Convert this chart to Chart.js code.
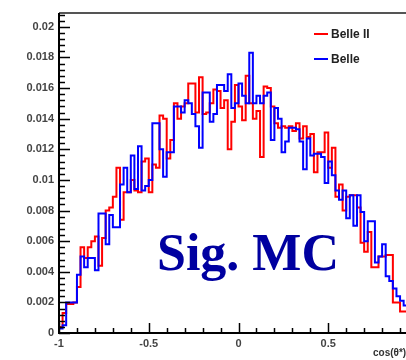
<!DOCTYPE html>
<html lang="en">
<head>
<meta charset="UTF-8">
<title>Sig. MC</title>
<script src="https://cdn.jsdelivr.net/npm/chart.js"></script>
<style>
    html, body { margin: 0; padding: 0; background: #fff; overflow: hidden; }
    #wrap { width: 430px; height: 360px; position: relative; }
</style>
</head>
<body>
<div id="wrap"><canvas id="chart"></canvas></div>
<script>
// histogram range, 100 bins over [-1, 1]
const xMin = -1;
const xMax = 1;

const seriesLabels = ['Belle II', 'Belle'];

const belle2 = [
    0.0004, 0.0013, 0.0019, 0.0019, 0.0020, 0.0030, 0.0056, 0.0049, 0.0056, 0.0060,
    0.0063, 0.0044, 0.0062, 0.0080, 0.0082, 0.0089, 0.0108, 0.0074, 0.0092, 0.0092,
    0.0100, 0.0093, 0.0092, 0.0112, 0.0114, 0.0092, 0.0110, 0.0108, 0.0142, 0.0140,
    0.0114, 0.0126, 0.0150, 0.0140, 0.0148, 0.0150, 0.0163, 0.0163, 0.0144, 0.0167,
    0.0143, 0.0144, 0.0150, 0.0159, 0.0158, 0.0147, 0.0152, 0.0120, 0.0138, 0.0162,
    0.0148, 0.0139, 0.0168, 0.0150, 0.0140, 0.0145, 0.0115, 0.0161, 0.0160, 0.0148,
    0.0137, 0.0134, 0.0135, 0.0134, 0.0135, 0.0132, 0.0137, 0.0127, 0.0135, 0.0128,
    0.0130, 0.0105, 0.0118, 0.0118, 0.0131, 0.0108, 0.0121, 0.0089, 0.0097, 0.0080,
    0.0089, 0.0090, 0.0090, 0.0082, 0.0059, 0.0053, 0.0066, 0.0043, 0.0043, 0.0050,
    0.0050, 0.0051, 0.0051, 0.0020, 0.0020, 0.0014, 0.0014, 0.0012, 0.0008, 0.0004
];

const belle = [
    0.0003, 0.0005, 0.0020, 0.0020, 0.0020, 0.0038, 0.0050, 0.0043, 0.0049, 0.0049,
    0.0041, 0.0078, 0.0078, 0.0058, 0.0077, 0.0069, 0.0069, 0.0097, 0.0108, 0.0092,
    0.0116, 0.0094, 0.0122, 0.0093, 0.0096, 0.0100, 0.0137, 0.0137, 0.0120, 0.0102,
    0.0118, 0.0118, 0.0148, 0.0148, 0.0144, 0.0152, 0.0150, 0.0143, 0.0135, 0.0121,
    0.0157, 0.0157, 0.0138, 0.0143, 0.0162, 0.0162, 0.0158, 0.0169, 0.0147, 0.0150,
    0.0163, 0.0155, 0.0150, 0.0183, 0.0150, 0.0155, 0.0150, 0.0155, 0.0157, 0.0126,
    0.0147, 0.0140, 0.0118, 0.0125, 0.0134, 0.0134, 0.0133, 0.0125, 0.0107, 0.0127,
    0.0116, 0.0117, 0.0117, 0.0115, 0.0098, 0.0112, 0.0103, 0.0093, 0.0087, 0.0093,
    0.0075, 0.0090, 0.0070, 0.0090, 0.0079, 0.0060, 0.0073, 0.0073, 0.0046, 0.0050,
    0.0058, 0.0037, 0.0034, 0.0029, 0.0024, 0.0021, 0.0018, 0.0015, 0.0010, 0.0005
];

const xMajorTicks = [-1, -0.5, 0, 0.5, 1];
const yMajorTicks = [0, 0.002, 0.004, 0.006, 0.008, 0.01, 0.012, 0.014, 0.016, 0.018, 0.02];
const yMax = 0.0209;

const annotationText = 'Sig. MC';
const xTitle = 'cos(θ*)';

// bin low edges + closing edge, drawn with stepped 'before'
function histPoints(vals) {
    const w = (xMax - xMin) / vals.length;
    const pts = vals.map((v, i) => ({ x: xMin + i * w, y: v }));
    pts.push({ x: xMax, y: vals[vals.length - 1] });
    return pts;
}

const labelFont = { family: '"Liberation Sans", Arial, sans-serif', size: 11, weight: 'bold' };

// ROOT-like frame: inward ticks, axes, legend, text
const rootFrame = {
    id: 'rootFrame',
    afterDraw(chart) {
        const { ctx, chartArea: a, scales: { x, y } } = chart;
        ctx.save();

        // y ticks (minor every 0.0004)
        ctx.strokeStyle = '#000';
        ctx.lineWidth = 1.5;
        for (let k = 0; k * 0.0004 <= yMax + 1e-9; k++) {
            const py = Math.round(y.getPixelForValue(k * 0.0004)) + 0.5;
            const len = k % 5 === 0 ? 11 : 6;
            ctx.beginPath();
            ctx.moveTo(a.left, py);
            ctx.lineTo(a.left + len, py);
            ctx.stroke();
        }
        // x ticks (minor every 0.1)
        for (let k = 0; k <= 20; k++) {
            const px = Math.round(x.getPixelForValue(-1 + k * 0.1)) + 0.5;
            const len = k % 5 === 0 ? 10 : 5;
            ctx.beginPath();
            ctx.moveTo(px, a.bottom);
            ctx.lineTo(px, a.bottom - len);
            ctx.stroke();
        }

        // frame
        ctx.lineWidth = 2;
        ctx.strokeStyle = '#555';
        ctx.beginPath();
        ctx.moveTo(a.left, a.top);
        ctx.lineTo(a.right, a.top);
        ctx.stroke();
        ctx.strokeStyle = '#000';
        ctx.beginPath();
        ctx.moveTo(a.left, a.top);
        ctx.lineTo(a.left, a.bottom);
        ctx.lineTo(a.right, a.bottom);
        ctx.stroke();

        // legend
        const legendY = [34, 59];
        chart.data.datasets.forEach((ds, i) => {
            ctx.strokeStyle = ds.borderColor;
            ctx.lineWidth = 2;
            ctx.beginPath();
            ctx.moveTo(314, legendY[i]);
            ctx.lineTo(328, legendY[i]);
            ctx.stroke();
            ctx.fillStyle = '#222';
            ctx.font = 'bold 12px "Liberation Sans", Arial, sans-serif';
            ctx.textBaseline = 'middle';
            ctx.fillText(ds.label, 331, legendY[i] + 0.5);
        });

        // big label
        ctx.fillStyle = '#0000a0';
        ctx.font = 'bold 52px "Liberation Serif", "Times New Roman", serif';
        ctx.textBaseline = 'alphabetic';
        ctx.fillText(annotationText, 157, 270);

        // axis title
        ctx.fillStyle = '#333';
        ctx.font = 'bold 10px "Liberation Sans", Arial, sans-serif';
        ctx.textBaseline = 'middle';
        ctx.fillText(xTitle, 373, 353);

        ctx.restore();
    }
};

new Chart(document.getElementById('chart').getContext('2d'), {
    type: 'line',
    data: {
        datasets: [
            {
                label: seriesLabels[0],
                data: histPoints(belle2),
                borderColor: '#ff0000',
                borderWidth: 2,
                stepped: 'before',
                pointRadius: 0,
                fill: false,
                order: 1
            },
            {
                label: seriesLabels[1],
                data: histPoints(belle),
                borderColor: '#0000ff',
                borderWidth: 2,
                stepped: 'before',
                pointRadius: 0,
                fill: false,
                order: 0
            }
        ]
    },
    options: {
        responsive: true,
        maintainAspectRatio: false,
        animation: false,
        layout: { padding: { top: 13, right: 12, left: 0, bottom: 0 } },
        plugins: { legend: { display: false }, tooltip: { enabled: false } },
        scales: {
            x: {
                type: 'linear',
                min: xMin,
                max: xMax,
                grid: { display: false, drawTicks: false },
                border: { display: false },
                ticks: {
                    autoSkip: false,
                    maxRotation: 0,
                    padding: 4,
                    color: '#444',
                    font: labelFont,
                    callback: v => String(v)
                },
                afterBuildTicks: s => { s.ticks = xMajorTicks.map(v => ({ value: v })); },
                afterFit: s => { s.height = 27; }
            },
            y: {
                min: 0,
                max: yMax,
                grid: { display: false, drawTicks: false },
                border: { display: false },
                ticks: {
                    autoSkip: false,
                    padding: 5,
                    color: '#444',
                    font: labelFont,
                    callback: v => String(+v.toFixed(3))
                },
                afterBuildTicks: s => { s.ticks = yMajorTicks.map(v => ({ value: v })); },
                afterFit: s => { s.width = 59; }
            }
        }
    },
    plugins: [rootFrame]
});
</script>
</body>
</html>
